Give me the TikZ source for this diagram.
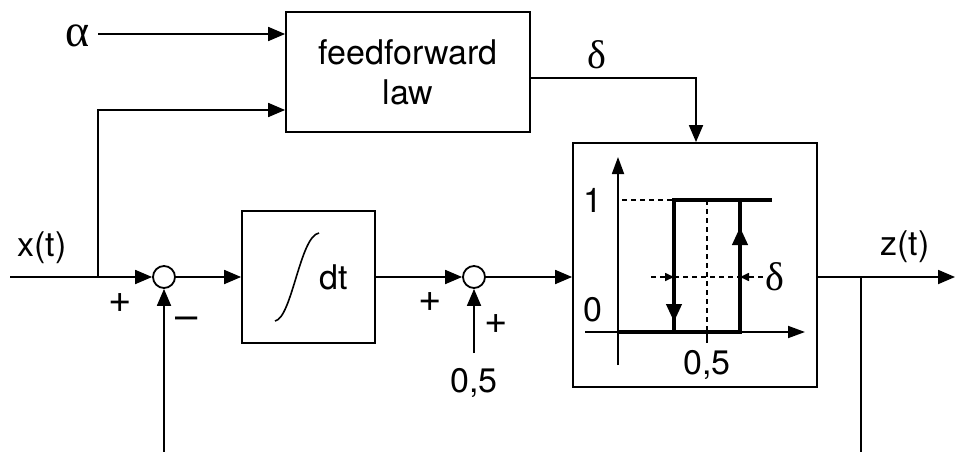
\documentclass[tikz,border=0pt]{standalone}
\usepackage{fontspec}
\setmainfont{TeX Gyre Heros}
\newfontfamily\grk{Liberation Serif}
\usetikzlibrary{arrows.meta}
\tikzset{
  ln/.style={line width=1.8pt},
  arr/.style={ln,-{Triangle[length=17pt,width=14pt]}},
  blk/.style={draw,line width=1.8pt,rectangle,inner sep=0pt},
  sumc/.style={draw,line width=1.8pt,circle,minimum size=22pt,inner sep=0pt,fill=white},
  lbl/.style={inner sep=0pt},
  sgn/.style={inner sep=0pt,font=\fontsize{40}{44}\selectfont},
  curve/.style={line width=4pt},
  dsh/.style={line width=1.6pt,dash pattern=on 5pt off 4pt},
  axarr/.style={line width=1.8pt,-{Triangle[length=17pt,width=12pt]}},
  carr/.style={curve,-{Triangle[length=18pt,width=15pt]}},
  darr/.style={dsh,-{Triangle[length=9pt,width=8pt]}}
}
\begin{document}
\begin{tikzpicture}[x=1pt,y=-1pt,font=\fontsize{34}{41}\selectfont]
\useasboundingbox (0,0) rectangle (955,452);
% blocks
\node[blk,minimum width=244pt,minimum height=120pt,align=center] (ff) at (408,72) {feedforward\\[-1pt]law};
\node[blk,minimum width=133pt,minimum height=132pt] (integ) at (308.5,277) {};
\node[blk,minimum width=244pt,minimum height=244pt] (hyst) at (695,265) {};
\node[sumc] (s1) at (164,277) {};
\node[sumc] (s2) at (474,277) {};
% coordinates
\coordinate (xin) at (10,277);
\coordinate (xb) at (98,277);
\coordinate (lowin) at (98,110);
\coordinate (ain) at (98,34);
\coordinate (dcorner) at (696,78);
\coordinate (zb) at (861,277);
\coordinate (zbot) at (861,452);
\coordinate (zout) at (955,277);
\coordinate (fb1) at (164,452);
\coordinate (ctop) at (474,353);
% labels
\node[lbl] (alpha) at (78,36) {\grk\fontsize{46}{48}\selectfont α};
\node[lbl] (delta) at (597,55) {\grk\fontsize{40}{42}\selectfont δ};
\node[lbl] (xt) at (42,248) {x(t)};
\node[lbl] (zt) at (905,247) {z(t)};
\node[sgn] (p1) at (120,303) {+};
\node[sgn] (m1) at (187,323) {--};
\node[sgn] (p2) at (430,302) {+};
\node[sgn] (p3) at (496,324) {+};
\node[lbl] (c05) at (474,383) {0,5};
\node[lbl] (dt) at (334,277) {dt};
% connectors
\draw[arr] (ain) -- (ff.west |- ain);
\draw[ln] (xin) -- (xb);
\draw[arr] (xb) -- (s1.west);
\draw[arr] (xb) -- (lowin) -- (ff.west |- lowin);
\draw[arr] (ff.east |- dcorner) -- (dcorner) -- (hyst.north -| dcorner);
\draw[arr] (s1.east) -- (integ.west);
\draw[arr] (integ.east) -- (s2.west);
\draw[arr] (s2.east) -- (hyst.west |- s2);
\draw[arr] (hyst.east |- s2) -- (zout);
\draw[ln] (zb) -- (zbot);
\draw[arr] (fb1) -- (s1.south);
\draw[arr] (ctop) -- (s2.south);
% integral sign
\draw[line width=1.6pt] (275,321) .. controls (292,318) and (300,236) .. (319,233);
% hysteresis inside
\draw[axarr] (618,365) -- (618,157);
\draw[axarr] (585,332) -- (805,332);
\node[lbl] (one) at (593,200) {1};
\node[lbl] (zero) at (593,310) {0};
\node[lbl] (half) at (707,365) {0,5};
\node[lbl] (dlt2) at (775,277) {\grk\fontsize{40}{42}\selectfont δ};
\draw[dsh] (622,200) -- (674,200);
\draw[dsh] (707,200) -- (707,332);
\draw[ln] (707,332) -- (707,343);
\draw[dsh] (674,277) -- (740,277);
\draw[darr] (651,277) -- (674,277);
\draw[darr] (763,277) -- (740,277);
\draw[curve] (618,332) -- (740,332) -- (740,200);
\draw[curve] (674,332) -- (674,200) -- (772,200);
\draw[carr] (674,290) -- (674,322);
\draw[carr] (740,262) -- (740,227);
\end{tikzpicture}
\end{document}
